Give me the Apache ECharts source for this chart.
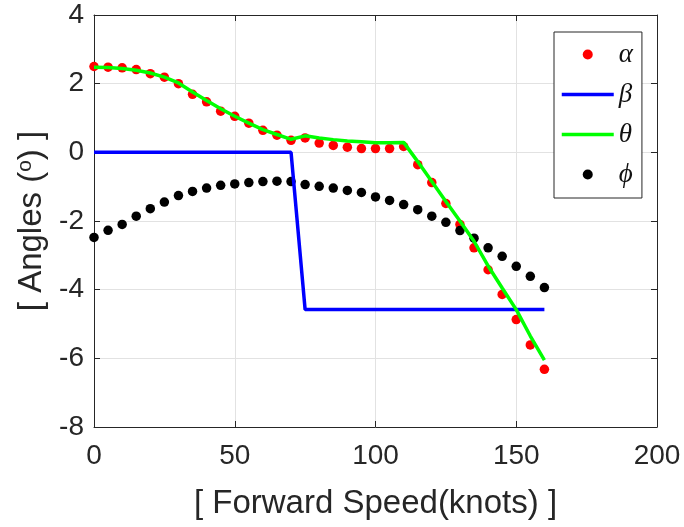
<!DOCTYPE html>
<html>
<head>
<meta charset="utf-8">
<script src="https://cdn.jsdelivr.net/npm/echarts@6/dist/echarts.min.js"></script>
<style>
  html, body { margin: 0; padding: 0; background: #fff; }
  #chart { width: 684px; height: 527px; }
</style>
</head>
<body>
<div id="chart"></div>
<script>
// Forward speed samples (knots)
const speeds = [0, 5, 10, 15, 20, 25, 30, 35, 40, 45, 50, 55, 60, 65, 70, 75, 80,
                85, 90, 95, 100, 105, 110, 115, 120, 125, 130, 135, 140, 145, 150, 155, 160];

// Angles in degrees at each speed
const alpha = [2.50, 2.48, 2.46, 2.41, 2.29, 2.19, 2.00, 1.69, 1.47, 1.20, 1.05, 0.85, 0.64, 0.50, 0.35, 0.42, 0.27,
               0.20, 0.15, 0.11, 0.11, 0.11, 0.17, -0.36, -0.88, -1.49, -2.10, -2.78, -3.42, -4.14, -4.87, -5.61, -6.32];
const beta  = [0, 0, 0, 0, 0, 0, 0, 0, 0, 0, 0, 0, 0, 0, 0, -4.58, -4.58,
               -4.58, -4.58, -4.58, -4.58, -4.58, -4.58, -4.58, -4.58, -4.58, -4.58, -4.58, -4.58, -4.58, -4.58, -4.58, -4.58];
const theta = [2.48, 2.47, 2.44, 2.39, 2.31, 2.19, 2.02, 1.76, 1.51, 1.27, 1.05, 0.85, 0.66, 0.52, 0.38, 0.48, 0.42,
               0.37, 0.33, 0.31, 0.28, 0.28, 0.29, -0.27, -0.85, -1.43, -2.00, -2.59, -3.31, -3.95, -4.58, -5.35, -6.05];
const phi   = [-2.48, -2.27, -2.10, -1.86, -1.64, -1.45, -1.26, -1.14, -1.04, -0.96, -0.92, -0.88, -0.85, -0.84, -0.85, -0.94, -0.99,
               -1.04, -1.11, -1.17, -1.30, -1.40, -1.52, -1.67, -1.86, -2.04, -2.28, -2.50, -2.78, -3.03, -3.32, -3.61, -3.94];

const xTicks = { min: 0, max: 200, interval: 50 };
const yTicks = { min: -8, max: 4, interval: 2 };

const pairs = (ys) => speeds.map((x, i) => [x, ys[i]]);

const axisColor = '#262626';
const sans = 'Liberation Sans, Arial, sans-serif';
const tickFont = { fontFamily: sans, fontSize: 28, color: axisColor };
const lineWidth = 3.5;

const chart = echarts.init(document.getElementById('chart'), null, { renderer: 'canvas' });

chart.setOption({
  animation: false,
  backgroundColor: '#fff',
  grid: { left: 94, right: 27, top: 15, bottom: 100, containLabel: false, outerBoundsMode: 'none' },
  xAxis: [
    {
      type: 'value', position: 'bottom',
      min: xTicks.min, max: xTicks.max, interval: xTicks.interval,
      name: '[ Forward Speed(knots) ]',
      nameLocation: 'middle', nameGap: 60,
      nameTextStyle: { fontFamily: sans, fontSize: 33, color: axisColor },
      axisLine: { show: true, onZero: false, lineStyle: { color: axisColor, width: 1 } },
      axisTick: { show: true, inside: true, length: 6, lineStyle: { color: axisColor } },
      axisLabel: Object.assign({ margin: 15 }, tickFont),
      splitLine: { show: true, lineStyle: { color: '#e2e2e2', width: 1 } }
    },
    {
      type: 'value', position: 'top',
      min: xTicks.min, max: xTicks.max, interval: xTicks.interval,
      axisLine: { show: true, onZero: false, lineStyle: { color: axisColor, width: 1 } },
      axisTick: { show: true, inside: true, length: 6, lineStyle: { color: axisColor } },
      axisLabel: { show: false },
      splitLine: { show: false }
    }
  ],
  yAxis: [
    {
      type: 'value', position: 'left',
      min: yTicks.min, max: yTicks.max, interval: yTicks.interval,
      name: '[ Angles ({sup|o}) ]',
      nameLocation: 'middle', nameGap: 44, nameRotate: 90,
      nameTextStyle: {
        fontFamily: sans, fontSize: 33, color: axisColor,
        rich: {
          sup: { fontFamily: sans, fontSize: 21, color: axisColor, verticalAlign: 'top', padding: [0, 0, 13, 0] }
        }
      },
      axisLine: { show: true, onZero: false, lineStyle: { color: axisColor, width: 1 } },
      axisTick: { show: true, inside: true, length: 6, lineStyle: { color: axisColor } },
      axisLabel: Object.assign({ margin: 10 }, tickFont),
      splitLine: { show: true, lineStyle: { color: '#e2e2e2', width: 1 } }
    },
    {
      type: 'value', position: 'right',
      min: yTicks.min, max: yTicks.max, interval: yTicks.interval,
      axisLine: { show: true, onZero: false, lineStyle: { color: axisColor, width: 1 } },
      axisTick: { show: true, inside: true, length: 6, lineStyle: { color: axisColor } },
      axisLabel: { show: false },
      splitLine: { show: false }
    }
  ],
  legend: {
    orient: 'vertical',
    left: 554, top: 32,
    padding: [9, 9, 10, 6],
    itemWidth: 52, itemHeight: 10, itemGap: 13,
    backgroundColor: '#fff',
    borderColor: axisColor, borderWidth: 1,
    textStyle: { fontFamily: 'Liberation Serif, DejaVu Serif, serif', fontStyle: 'italic', fontSize: 27, color: '#111', lineHeight: 24 },
    data: [
      { name: 'α' },
      { name: 'β', itemStyle: { opacity: 0 }, lineStyle: { width: lineWidth, color: '#0000ff' } },
      { name: 'θ', itemStyle: { opacity: 0 }, lineStyle: { width: lineWidth, color: '#00ff00' } },
      { name: 'ϕ' }
    ]
  },
  series: [
    {
      name: 'α', type: 'scatter', data: pairs(alpha),
      symbol: 'circle', symbolSize: 9.5,
      itemStyle: { color: '#ff0000', opacity: 1 }
    },
    {
      name: 'β', type: 'line', data: pairs(beta),
      symbol: 'none', lineStyle: { color: '#0000ff', width: lineWidth }, itemStyle: { color: '#0000ff' }
    },
    {
      name: 'θ', type: 'line', data: pairs(theta),
      symbol: 'none', lineStyle: { color: '#00ff00', width: lineWidth }, itemStyle: { color: '#00ff00' }
    },
    {
      name: 'ϕ', type: 'scatter', data: pairs(phi),
      symbol: 'circle', symbolSize: 9.5,
      itemStyle: { color: '#000000', opacity: 1 }
    }
  ]
});
</script>
</body>
</html>
